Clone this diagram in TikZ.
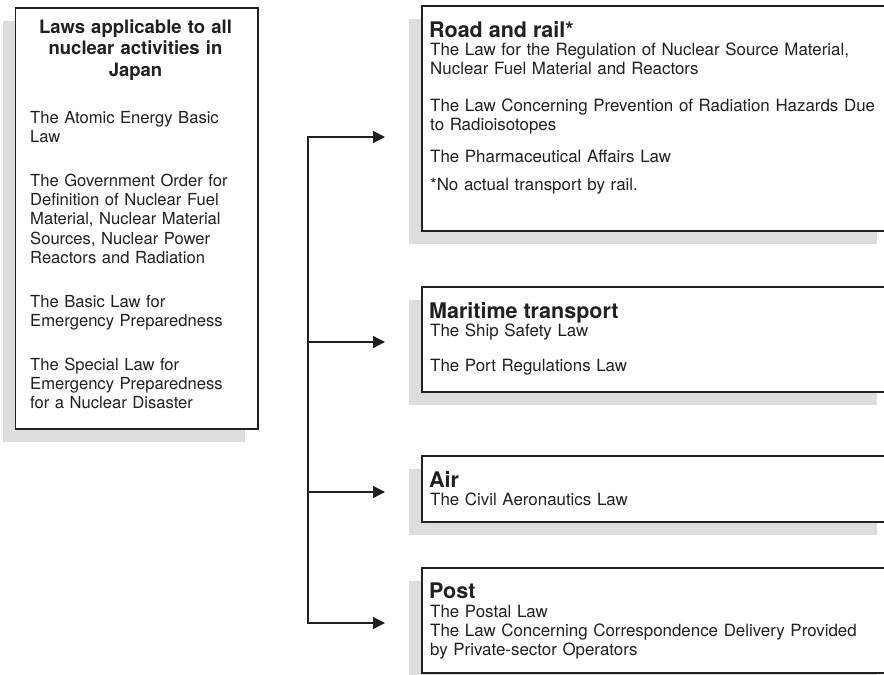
\documentclass[tikz,border=0pt]{standalone}
\usepackage{fontspec}
\setmainfont{TeX Gyre Heros}
\usetikzlibrary{positioning,arrows.meta,shadows}
\definecolor{ink}{RGB}{35,31,32}
\definecolor{shade}{RGB}{220,221,223}

\begin{document}
\begin{tikzpicture}[x=1pt,y=-1pt,
    lawframe/.style={draw=ink, line width=1.8pt, fill=white, anchor=north west, inner sep=0pt,
        drop shadow={shadow xshift=-12.5pt, shadow yshift=-13pt, fill=shade, draw=none, opacity=1}},
    lawhead/.style={anchor=base west, inner sep=0pt, text=ink, font=\bfseries\fontsize{21.5}{24}\selectfont},
    lawlist/.style={anchor=base west, inner sep=0pt, text=ink, align=left, text width=480pt,
        font=\fontsize{16.9}{19}\selectfont},
    feed/.style={draw=ink, line width=1.3pt, -{Triangle[length=12pt,width=12pt]}}]
   \def\parskipL{24.5pt}
   \useasboundingbox (0,0) rectangle (884,675);
   % laws for all nuclear activities
   \node[lawframe, minimum width=242.5pt, minimum height=421pt] (general) at (14.5,7) {};
   \node[lawhead, anchor=base, align=center, text width=236pt, font=\bfseries\fontsize{18.5}{21.5}\selectfont]
       (generalhead) at (135.5,33) {Laws applicable to all\\nuclear activities in\\Japan};
   \node[lawlist, text width=224pt, font=\fontsize{16.6}{19.3}\selectfont] (generallist) at (30,123)
       {The Atomic Energy Basic\\Law\\[\parskipL]
        The Government Order for\\Definition of Nuclear Fuel\\Material, Nuclear Material\\Sources, Nuclear Power\\Reactors and Radiation\\[\parskipL]
        The Basic Law for\\Emergency Preparedness\\[\parskipL]
        The Special Law for\\Emergency Preparedness\\for a Nuclear Disaster};
   % transport modes
   \node[lawframe, minimum width=468pt, minimum height=225pt] (road) at (421,5) {};
   \node[lawhead] (roadhead) at (429,37) {Road and rail*};
   \node[lawlist] (roadlist) at (430,55)
       {The Law for the Regulation of Nuclear Source Material,\\Nuclear Fuel Material and Reactors\\[18pt]
        The Law Concerning Prevention of Radiation Hazards Due\\to Radioisotopes\\[13pt]
        The Pharmaceutical Affairs Law\\[9pt]
        *No actual transport by rail.};
   \node[lawframe, minimum width=468pt, minimum height=105pt] (sea) at (421,286) {};
   \node[lawhead] (seahead) at (429,318) {Maritime transport};
   \node[lawlist] (sealist) at (430,336) {The Ship Safety Law\\[16pt]The Port Regulations Law};
   \node[lawframe, minimum width=468pt, minimum height=66pt] (air) at (421,455) {};
   \node[lawhead] (airhead) at (429,487) {Air};
   \node[lawlist] (airlist) at (430,505) {The Civil Aeronautics Law};
   \node[lawframe, minimum width=468pt, minimum height=105pt] (post) at (421,567) {};
   \node[lawhead] (posthead) at (429,598) {Post};
   \node[lawlist] (postlist) at (430,617)
       {The Postal Law\\The Law Concerning Correspondence Delivery Provided\\by Private-sector Operators};
   % branching arrows
   \coordinate (jroad) at (308,137);
   \coordinate (jsea) at (308,342);
   \coordinate (jair) at (308,492);
   \coordinate (jpost) at (308,623);
   \draw[draw=ink, line width=1.3pt, line cap=rect] (jroad) -- (jpost);
   \foreach \j/\b in {jroad/road, jsea/sea, jair/air, jpost/post}
       \draw[feed, shorten >=36pt] (\j) -- (\j -| \b.west);
\end{tikzpicture}
\end{document}
